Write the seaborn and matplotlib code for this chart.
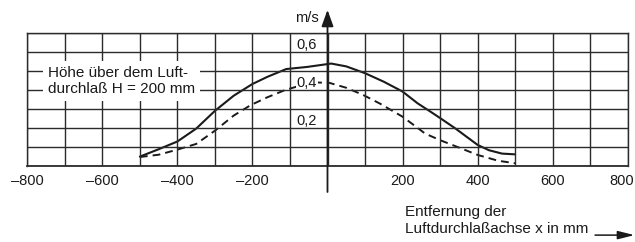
import matplotlib
matplotlib.use("Agg")
import matplotlib.pyplot as plt
import matplotlib.transforms as mtransforms
import seaborn as sns
import pandas as pd

# ---- data ----
x_solid = [-500, -450, -400, -350, -300, -250, -200, -160, -110, -55, 10, 50, 100, 150, 200, 240, 275, 300, 340, 400, 430, 465, 500]
y_solid = [0.048, 0.087, 0.128, 0.196, 0.29, 0.37, 0.432, 0.47, 0.511, 0.522, 0.54, 0.525, 0.489, 0.444, 0.392, 0.33, 0.285, 0.252, 0.198, 0.11, 0.082, 0.064, 0.06]

x_dash = [-500, -450, -400, -350, -300, -250, -205, -160, -113, -70, -30, 5, 50, 95, 140, 200, 240, 260, 300, 345, 400, 455, 500]
y_dash = [0.046, 0.058, 0.085, 0.115, 0.185, 0.265, 0.32, 0.362, 0.40, 0.425, 0.44, 0.438, 0.412, 0.374, 0.328, 0.259, 0.2, 0.17, 0.135, 0.1, 0.057, 0.026, 0.013]

x_ticks = [-800, -600, -400, -200, 200, 400, 600, 800]
x_ticklabels = ["\u2013800", "\u2013600", "\u2013400", "\u2013200", "200", "400", "600", "800"]
y_ticks = [0.2, 0.4, 0.6]
y_ticklabels = ["0,2", "0,4", "0,6"]
y_unit = "m/s"
x_title = "Entfernung der\nLuftdurchla\u00dfachse x in mm"
note = "H\u00f6he \u00fcber dem Luft-\ndurchla\u00df H = 200 mm"

# ---- style ----
sns.set_style("white")
plt.rcParams["font.family"] = ["Liberation Sans", "DejaVu Sans"]
FS = 10.5
FS_TXT = 11.0
INK = "#1a1a1a"
GRID = "#2b2b2b"

fig = plt.figure(figsize=(6.35, 2.42), dpi=100)
ax = fig.add_axes([0.043, 0.3153, 0.9455, 0.5471])

df_s = pd.DataFrame({"x": x_solid, "y": y_solid})
df_d = pd.DataFrame({"x": x_dash, "y": y_dash})
sns.lineplot(data=df_s, x="x", y="y", ax=ax, color=INK, lw=1.5, zorder=2, legend=False,
             solid_joinstyle="round")
sns.lineplot(data=df_d, x="x", y="y", ax=ax, color=INK, lw=1.4, zorder=2, legend=False,
             linestyle=(0, (4, 2.6)))

ax.set_xlim(-800, 800)
ax.set_ylim(0, 0.7)
ax.set_xlabel("")
ax.set_ylabel("")

# grid: every 100 on x, every 0.1 on y
ax.set_xticks(x_ticks)
ax.set_xticklabels(x_ticklabels, fontsize=FS, color=INK)
ax.set_xticks(list(range(-800, 801, 100)), minor=True)
ax.set_yticks([i / 10 for i in range(0, 8)])
ax.set_yticklabels([])
ax.tick_params(axis="both", which="both", length=0)
ax.tick_params(axis="x", pad=6)
ax.set_axisbelow(False)
ax.grid(False)
ax.grid(True, which="both", axis="x", color=GRID, lw=1.0)
ax.grid(True, which="major", axis="y", color=GRID, lw=1.0)
for s in ax.spines.values():
    s.set_visible(True)
    s.set_color(GRID)
    s.set_linewidth(1.0)
ax.spines["bottom"].set_linewidth(1.3)

# last x label nudged inward so it fits
last = ax.get_xticklabels()[-1]
last.set_transform(last.get_transform() + mtransforms.ScaledTranslation(-6 / 100, 0, fig.dpi_scale_trans))

# y axis at x = 0 with arrow
ax.annotate("", xy=(0, 0.824), xytext=(0, -0.139), xycoords="data",
            arrowprops=dict(arrowstyle="-|>,head_length=1.0,head_width=0.36", lw=1.3,
                            color=INK, shrinkA=0, shrinkB=0, mutation_scale=10),
            annotation_clip=False, zorder=3)
ax.text(-23, 0.781, y_unit, ha="right", va="center", fontsize=FS, color=INK, clip_on=False)

# y tick labels left of the axis, above their grid lines
for v, lab in zip(y_ticks, y_ticklabels):
    ax.text(-28, v + 0.016, lab, ha="right", va="baseline", fontsize=FS, color=INK, zorder=2.2,
            bbox=dict(facecolor="white", edgecolor="none", pad=0.6))

# annotation with white background
ax.text(-744, 0.447, note, ha="left", va="center", fontsize=FS_TXT, color=INK, linespacing=1.2,
        zorder=6, bbox=dict(facecolor="white", edgecolor="none", pad=3.5))

# x title and arrow
ax.text(207, -0.29, x_title, ha="left", va="center", fontsize=FS_TXT, color=INK, linespacing=1.2,
        clip_on=False)
ax.annotate("", xy=(818, -0.367), xytext=(713, -0.367), xycoords="data",
            arrowprops=dict(arrowstyle="-|>,head_length=1.0,head_width=0.25", lw=1.1,
                            color=INK, shrinkA=0, shrinkB=0, mutation_scale=10),
            annotation_clip=False)

fig.savefig("out.png", dpi=100)
